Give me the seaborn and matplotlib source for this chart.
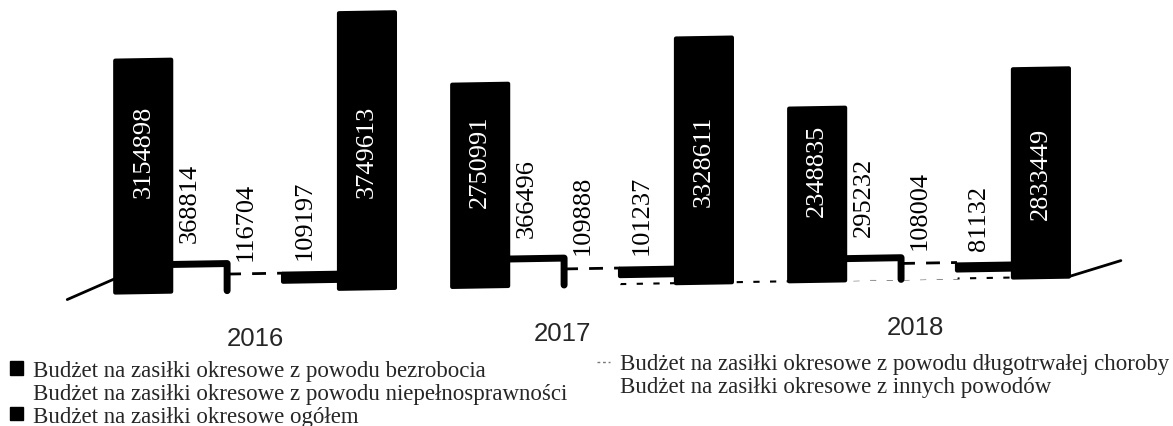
import matplotlib
matplotlib.use('Agg')
import matplotlib.pyplot as plt
from matplotlib.lines import Line2D
from matplotlib.patches import Patch
from matplotlib.transforms import Affine2D
import pandas as pd
import seaborn as sns

lata = ['2016', '2017', '2018']
bezrobocie = [3154898, 2750991, 2348835]
niepelnosprawnosc = [368814, 366496, 295232]
choroba = [116704, 109888, 108004]
inne = [109197, 101237, 81132]
ogolem = [3749613, 3328611, 2833449]

nazwy = ['Budżet na zasiłki okresowe z powodu bezrobocia',
         'Budżet na zasiłki okresowe z powodu niepełnosprawności',
         'Budżet na zasiłki okresowe z powodu długotrwałej choroby',
         'Budżet na zasiłki okresowe z innych powodów',
         'Budżet na zasiłki okresowe ogółem']
serie = [bezrobocie, niepelnosprawnosc, choroba, inne, ogolem]
kolory = ['black', 'white', 'white', 'black', 'black']

rows = []
for nazwa, wartosci in zip(nazwy, serie):
    for rok, w in zip(lata, wartosci):
        rows.append({'rok': rok, 'nazwa': nazwa, 'budzet': w})
df = pd.DataFrame(rows)

sns.set_style('white')
fig = plt.figure(figsize=(11.73, 4.27), dpi=100)
ax = fig.add_axes([0, 0, 1, 1])
sns.barplot(data=df, x='rok', y='budzet', hue='nazwa', hue_order=nazwy,
            palette=dict(zip(nazwy, kolory)), saturation=1, width=0.83, gap=0, ax=ax)
ax.get_legend().remove()

ax.set_xlim(-0.757, 2.724)
ax.set_ylim(-1.79e6, 4.02e6)
ax.set_axis_off()

# podstawa wykresu lekko unosi sie w prawo (perspektywa 3D ze skanu)
tr = ax.transData + Affine2D.from_values(1, 0.0167, 0, 1, 0, 0)
tr_male = tr + Affine2D().translate(0, 8)

for i, kontener in enumerate(ax.containers):
    for p, w in zip(kontener.patches, serie[i]):
        p.set_transform(tr_male if i == 3 else tr)
        x0, x1 = p.get_x(), p.get_x() + p.get_width()
        xc = (x0 + x1) / 2
        if kolory[i] == 'black':
            p.set_edgecolor('black')
            p.set_linewidth(3)
            p.set_joinstyle('round')
        else:
            p.set_zorder(0.5)
        if i == 1:
            ax.plot([x0, x1, x1], [w, w, 0], color='black', lw=5, transform=tr,
                    solid_joinstyle='round')
        if i == 2:
            ax.plot([x0, x1], [w, w], color='black', lw=2, ls=(0, (5, 4)), transform=tr_male)
        if i in (0, 4):
            dy = 25 if i == 0 else 0
            ax.annotate(str(w), xy=(xc, w / 2), xycoords=tr, xytext=(0, dy),
                        textcoords='offset pixels', rotation=90, color='white',
                        ha='center', va='center', fontsize=19, family='Liberation Serif')
        else:
            dx = {1: -9, 2: -9, 3: -6}[i]
            ax.annotate(str(w), xy=(xc, w), xycoords=tr, xytext=(dx, 22),
                        textcoords='offset pixels', rotation=90, color='black',
                        ha='center', va='bottom', fontsize=19, family='Liberation Serif')

# brzegi podlogi po obu stronach, lewy dochodzi do slupka wyzej niz jego podstawa
pierwszy = ax.containers[0].patches[0]
ostatni = ax.containers[4].patches[2]
ax.annotate('', xy=(pierwszy.get_x(), 190000), xycoords=tr, xytext=(-48, -21),
            textcoords='offset pixels',
            arrowprops=dict(arrowstyle='-', color='black', lw=2, shrinkA=0, shrinkB=0))
ax.annotate('', xy=(ostatni.get_x() + ostatni.get_width(), 0), xycoords=tr, xytext=(52, 16),
            textcoords='offset pixels',
            arrowprops=dict(arrowstyle='-', color='black', lw=2, shrinkA=0, shrinkB=0))
# poszarpana linia podstawy miedzy grupami
ax.plot([ax.containers[3].patches[1].get_x(), ostatni.get_x()], [0, 0], color='black', lw=1.5,
        ls=(0, (3, 5)), transform=tr, zorder=0)

for i, rok in enumerate(lata):
    ax.annotate(rok, xy=(i, 0), xycoords=tr, xytext=([0, -30, -14][i], -48),
                textcoords='offset pixels', ha='center', va='center',
                fontsize=18.5, family='Liberation Sans')

czcionka = {'family': 'Liberation Serif', 'size': 16.5}
brak = Patch(facecolor='none', edgecolor='none')
kwadrat = Patch(facecolor='black', edgecolor='black')
kreski = Line2D([], [], color='#777777', lw=1, ls=(0, (2, 2)))

leg_lewa = ax.legend([kwadrat, brak, kwadrat], [nazwy[0], nazwy[1], nazwy[4]],
                     loc='lower left', bbox_to_anchor=(-0.005, -0.039), frameon=False,
                     handlelength=0.55, handleheight=0.55, handletextpad=0.45,
                     labelspacing=0.08, borderpad=0.2, prop=czcionka)
ax.add_artist(leg_lewa)
ax.legend([kreski, brak], [nazwy[2], nazwy[3]],
          loc='lower left', bbox_to_anchor=(0.4953, 0.0305), frameon=False,
          handlelength=0.55, handleheight=0.55, handletextpad=0.45,
          labelspacing=0.08, borderpad=0.2, prop=czcionka)

fig.savefig('out.png', dpi=100)
